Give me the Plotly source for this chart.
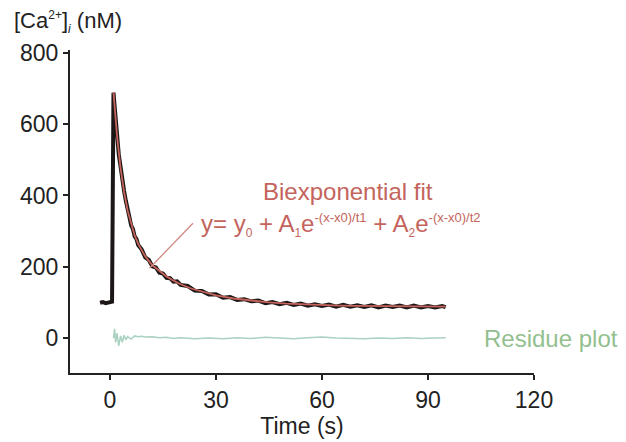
import plotly.graph_objects as go

# Measured calcium trace (time in s, [Ca2+]i in nM)
data_t = [-2.8, -2.0, -1.2, -0.4, 0.3, 0.6, 1.0, 1.3, 1.6, 2.0, 2.5, 3.0, 3.5, 4.0, 4.5,
          5.0, 5.5, 6.0, 6.5, 7.0, 7.5, 8.0, 9.0, 10, 11, 12, 13, 14, 15, 16, 17, 18, 19,
          20, 22, 24, 26, 28, 30, 32, 34, 36, 38, 40, 42, 44, 46, 48, 50, 52, 54, 56, 58,
          60, 62, 64, 66, 68, 70, 72, 74, 76, 78, 80, 82, 84, 86, 88, 90, 92, 94, 95]
data_y = [99, 101, 98, 100, 101, 102, 688, 652, 608, 571, 515, 481, 437, 413, 385,
          354, 340, 316, 306, 285, 278, 261, 248, 226, 219, 201, 198, 183, 181, 169, 168, 158, 159,
          149, 146, 133, 132, 122, 123, 113, 115, 107, 109, 103, 105, 98, 101, 95, 99, 93, 97, 91, 95,
          90, 94, 88, 93, 88, 92, 87, 92, 86, 91, 87, 91, 86, 91, 86, 90, 86, 90, 87]

# Biexponential fit
fit_t = [1, 1.5, 2, 3, 4, 5, 6, 7, 8, 10, 12, 14, 16, 18, 20, 23, 26, 30, 35, 40, 45,
         50, 55, 60, 65, 70, 75, 80, 85, 90, 95]
fit_y = [690, 624, 568, 477, 410, 358, 319, 288, 264, 229, 204, 188, 173, 161, 151, 139,
         130, 120, 111, 104.5, 100, 96.5, 94, 92.4, 91, 90.2, 89.6, 89.2, 88.8, 88.6, 88.4]

# Residue of the fit
res_t = [1.0, 1.3, 1.6, 2.0, 2.5, 3.0, 3.5, 4.0, 4.5, 5, 6, 7, 8, 9, 10, 12, 14, 16, 18, 20,
         24, 28, 32, 36, 40, 44, 48, 52, 56, 60, 64, 68, 72, 76, 80, 84, 88, 92, 95]
res_y = [0, 26, -12, 14, -22, 6, -12, 8, -5, 4, -3, 6, 4, 5, 3, 4, 1, 2, -1, 1,
         -2, 0, -2, 1, -1, 2, 0, -2, 1, 3, 0, -1, -2, 0, -1, 1, -1, 0, 1]

x_ticks = [0, 30, 60, 90, 120]
y_ticks = [0, 200, 400, 600, 800]

FONT = "Liberation Sans, Arial, sans-serif"
RED = "#c4645c"

fig = go.Figure()
fig.add_trace(go.Scatter(x=res_t, y=res_y, mode="lines",
                         line=dict(color="#a9d2c0", width=1.5), hoverinfo="skip"))
fig.add_trace(go.Scatter(x=data_t, y=data_y, mode="lines",
                         line=dict(color="#1c1616", width=4), hoverinfo="skip"))
fig.add_trace(go.Scatter(x=fit_t, y=fit_y, mode="lines",
                         line=dict(color=RED, width=1.8), hoverinfo="skip"))

# pointer line from the equation to the fit curve
fig.add_shape(type="line", x0=11.2, y0=196, x1=23.5, y1=322,
              line=dict(color="#d08a84", width=1.3))

fig.add_annotation(x=67.4, y=410, text="Biexponential fit", showarrow=False,
                   xanchor="center", yanchor="middle",
                   font=dict(family=FONT, size=24, color=RED))
sub = '<span style="font-size:12px">'
sup = '<span style="font-size:13px">'
fig.add_annotation(x=25.3, y=318,
                   text=("y= y<sub>" + sub + "0</span></sub> + A<sub>" + sub + "1</span></sub>e<sup>"
                         + sup + "-(x-x0)/t1</span></sup> + A<sub>" + sub + "2</span></sub>e<sup>"
                         + sup + "-(x-x0)/t2</span></sup>"),
                   showarrow=False, xanchor="left", yanchor="middle",
                   font=dict(family=FONT, size=24, color=RED))
fig.add_annotation(x=105.3, y=0, text="Residue plot", showarrow=False,
                   xanchor="left", yanchor="middle",
                   font=dict(family=FONT, size=24, color="#93bf8f"))
fig.add_annotation(xref="paper", yref="paper", x=-0.125, y=1.088,
                   text="[Ca<sup>" + sub + "2+</span></sup>]<sub>" + sub + "<i>i</i></span></sub> (nM)",
                   showarrow=False, xanchor="left", yanchor="middle",
                   font=dict(family=FONT, size=22, color="#222222"))

fig.update_layout(
    width=626, height=442,
    margin=dict(l=70, r=92, t=50, b=69),
    paper_bgcolor="white", plot_bgcolor="white",
    showlegend=False,
    font=dict(family=FONT, size=23, color="#222222"),
    xaxis=dict(range=[-11.3, 120], tickvals=x_ticks, ticks="outside", ticklen=5,
               tickwidth=2, tickcolor="#222", showline=True, linecolor="#222", linewidth=2,
               showgrid=False, zeroline=False,
               title=dict(text="Time (s)", standoff=0, font=dict(size=23))),
    yaxis=dict(range=[-98, 808], tickvals=y_ticks, ticks="outside", ticklen=5,
               tickwidth=2, tickcolor="#222", showline=True, linecolor="#222", linewidth=2,
               showgrid=False, zeroline=False),
)

fig.write_html("out.html")
